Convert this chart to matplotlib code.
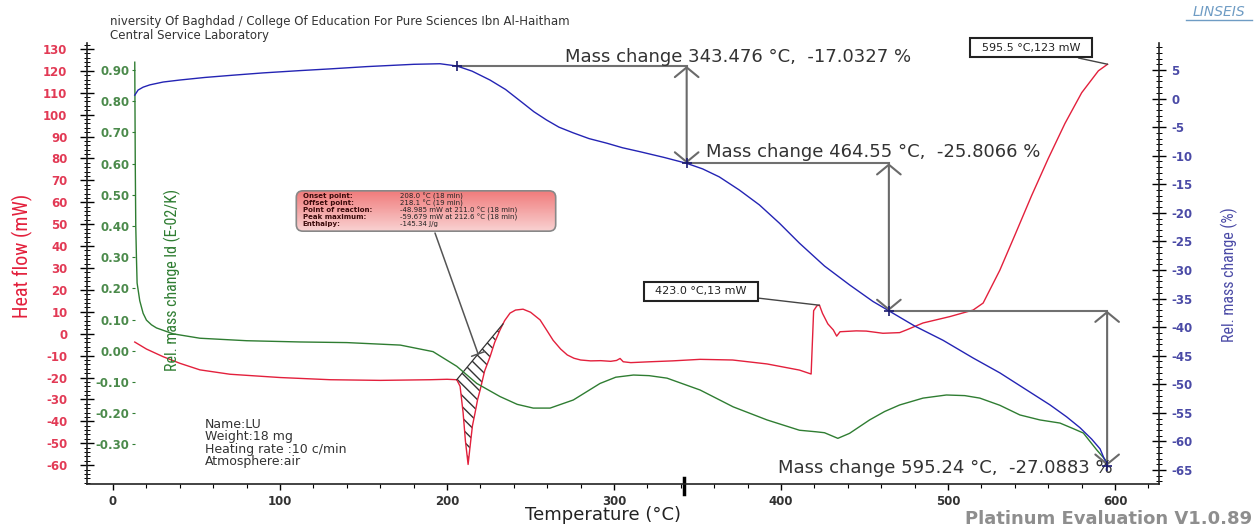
import numpy as np
import matplotlib.pyplot as plt
from matplotlib.ticker import MultipleLocator, FormatStrFormatter
from matplotlib.patches import FancyBboxPatch
from matplotlib.colors import LinearSegmentedColormap
from matplotlib.lines import Line2D

plt.rcParams['axes.unicode_minus'] = False

# heat flow (mW) against temperature
t_hf = [13, 20, 30, 40, 52, 70, 100, 130, 160, 190, 200, 205.8, 207.8, 209.6,
        211.0, 212.6, 214.0, 215.2, 216.8, 218.3, 219.8, 222.5, 225.7, 228.5,
        231.7, 234.5, 237.7, 241, 245.5, 250, 255.7, 259.5, 263.5, 268, 272,
        276, 280, 286, 292, 298, 301.5, 303.6, 305.5, 310, 321.6, 335, 351.5,
        371, 391.6, 411, 418.0, 419.5, 421.5, 423.0, 424.8, 428, 431.3, 433.3,
        435.3, 445, 451, 461, 471, 475, 485, 501, 515, 521, 525, 528, 531, 540,
        550, 560, 570, 580, 590, 595.5]
heat_flow = [-3.8, -7, -10.5, -13.5, -16.5, -18.5, -20, -21, -21.3, -21, -20.8,
             -21, -24, -36, -48.985, -59.679, -50, -42, -36, -30, -25.7, -17,
             -10.6, -4, 1.7, 6, 9.4, 10.8, 11.2, 9.8, 6.3, 1.8, -3, -7, -9.7,
             -11.2, -12, -12.4, -12.3, -12.6, -12.2, -11.3, -12.8, -13.2, -12.8,
             -12.4, -11.7, -12, -13.8, -16.6, -18.4, 10.5, 12.8, 13.0, 9.3, 4.5,
             1.7, -1.1, 0.9, 1.3, 1.2, 0.2, 0.5, 1.7, 4.9, 7.8, 10.8, 14, 20,
             24.5, 29, 45, 63, 80, 96, 110, 120, 123]

# derivative of relative mass change (E-02/K)
t_dtg = [13, 13.3, 13.6, 14.0, 14.4, 16, 18, 20, 23, 26, 36, 52, 80, 112, 140,
         172, 191.6, 205.8, 217.8, 231.7, 242, 251.6, 261.7, 275.6, 291.6, 301,
         311.6, 321, 331.7, 351.5, 371.3, 391.6, 411, 421, 426, 430, 434, 441,
         453, 462, 471, 485, 499, 510, 519, 531, 543, 555, 567, 575, 581, 589,
         595.2]
dtg = [0.925, 0.6, 0.4, 0.30, 0.217, 0.16, 0.12, 0.098, 0.083, 0.073, 0.054,
       0.040, 0.032, 0.028, 0.026, 0.018, -0.003, -0.05, -0.105, -0.147, -0.172,
       -0.184, -0.184, -0.158, -0.105, -0.085, -0.078, -0.08, -0.088, -0.126,
       -0.18, -0.222, -0.255, -0.26, -0.263, -0.272, -0.281, -0.265, -0.222,
       -0.195, -0.174, -0.152, -0.142, -0.144, -0.152, -0.175, -0.206, -0.222,
       -0.232, -0.25, -0.264, -0.318, -0.356]

# relative mass change (%)
t_tg = [13, 15, 18, 22, 30, 40, 55, 72, 90, 112, 130, 152, 180, 195.8, 206.0,
        215, 225.7, 235, 245.5, 252, 259.6, 267, 275.6, 285, 295.6, 305, 315.6,
        330, 343.476, 353, 363, 375, 387, 399, 411, 426, 441, 455, 464.55, 480,
        497, 515, 531, 546, 561, 571, 579, 586, 591, 595.24]
mass = [0.6, 1.5, 2.0, 2.4, 2.9, 3.25, 3.7, 4.1, 4.5, 4.9, 5.2, 5.6, 6.0, 6.1,
        5.7, 4.8, 3.25, 1.6, -0.8, -2.3, -3.75, -5.0, -6.0, -7.0, -7.8, -8.6,
        -9.3, -10.3, -11.33, -12.3, -13.7, -16, -18.6, -21.8, -25.3, -29.3,
        -32.6, -35.5, -37.14, -39.8, -42.3, -45.4, -48, -50.8, -53.6, -55.7,
        -57.6, -59.6, -61.3, -64.23]

# mass change evaluation steps
step_start = 206.0
step_temps = [343.476, 464.55, 595.24]
step_changes = [-17.0327, -25.8066, -27.0883]

# DSC peak evaluation
peak_rows = [("Onset point:", "208.0 °C (18 min)"),
             ("Offset point:", "218.1 °C (19 min)"),
             ("Point of reaction:", "-48.985 mW at 211.0 °C (18 min)"),
             ("Peak maximum:", "-59.679 mW at 212.6 °C (18 min)"),
             ("Enthalpy:", "-145.34 J/g")]
base_from, base_to = 205.8, 233.5

marks = [(595.5, 123), (423.0, 13)]

sample_info = ["Name:LU", "Weight:18 mg", "Heating rate :10 c/min", "Atmosphere:air"]

RED, GREEN, BLUE = '#e3203c', '#2f7d32', '#2424b4'
RED_T, GREEN_T, BLUE_T = '#e23a55', '#4b8a4b', '#4a4aa6'
NARROW = ['Liberation Sans Narrow', 'Roboto Condensed', 'DejaVu Sans Condensed',
          'Liberation Sans']

W, H = 1257, 529
fig = plt.figure(figsize=(W / 100, H / 100), dpi=100)
ax = fig.add_axes([87 / W, 1 - 484 / H, (1159 - 87) / W, (484 - 43) / H])
ax_g = ax.twinx()
ax_b = ax.twinx()

ax.set_xlim(-15.6, 626.3)
ax.set_ylim(-68.6, 132.7)
ax_g.set_ylim(-0.4274, 0.9866)
ax_b.set_ylim(-67.45, 9.73)

# curves
ax.plot(t_hf, heat_flow, color=RED, lw=1.0)
ax_g.plot(t_dtg, dtg, color=GREEN, lw=1.0)
ax_b.plot(t_tg, mass, color=BLUE, lw=1.0)

# spines
for a in (ax, ax_g, ax_b):
    a.spines['top'].set_visible(False)
ax.spines['right'].set_visible(False)
for s in ('left', 'right', 'bottom'):
    ax_g.spines[s].set_visible(False)
ax_b.spines['left'].set_visible(False)
ax_b.spines['bottom'].set_visible(False)
for s in (ax.spines['left'], ax.spines['bottom'], ax_b.spines['right']):
    s.set_color('#222222')
    s.set_linewidth(1.2)

# x axis
ax.xaxis.set_major_locator(MultipleLocator(100))
ax.xaxis.set_minor_locator(MultipleLocator(20))
ax.tick_params(axis='x', which='major', direction='out', length=4, width=1,
               pad=4, labelsize=8.5, labelcolor='#333333')
ax.tick_params(axis='x', which='minor', direction='out', length=3, width=0.8)
for lab in ax.get_xticklabels():
    lab.set_fontweight('bold')

# heat flow axis
ax.yaxis.set_major_locator(MultipleLocator(10))
ax.yaxis.set_minor_locator(MultipleLocator(2))
ax.tick_params(axis='y', which='major', direction='inout', length=10, width=1,
               pad=9, labelsize=8.5, labelcolor=RED_T)
ax.tick_params(axis='y', which='minor', direction='inout', length=5, width=0.7)

# dtg axis, sitting inside the frame
ax_g.yaxis.tick_left()
ax_g.spines['left'].set_position(('axes', 0.0448))
ax_g.set_yticks(np.round(np.arange(-0.3, 0.91, 0.1), 2))
ax_g.yaxis.set_major_formatter(FormatStrFormatter('%.2f'))
ax_g.tick_params(axis='y', direction='out', length=2, width=0.8, pad=2,
                 labelsize=8.5, labelcolor=GREEN_T, color=GREEN)

# mass axis
ax_b.yaxis.set_major_locator(MultipleLocator(5))
ax_b.yaxis.set_minor_locator(MultipleLocator(1))
ax_b.tick_params(axis='y', which='major', direction='inout', length=10, width=1,
                 pad=4, labelsize=8.5, labelcolor=BLUE_T)
ax_b.tick_params(axis='y', which='minor', direction='inout', length=5, width=0.7)

for a in (ax, ax_g, ax_b):
    for lab in a.get_yticklabels():
        lab.set_fontweight('bold')

# axis titles
fig.text(22 / W, 1 - 256 / H, 'Heat flow (mW)', rotation=90, color=RED,
         fontsize=14.5, family=NARROW, ha='center', va='center')
fig.text(172 / W, 1 - 280 / H, 'Rel. mass change ld (E-02/K)', rotation=90,
         color=GREEN, fontsize=11.5, family=NARROW, ha='center', va='center')
fig.text(1229 / W, 1 - 275 / H, 'Rel. mass change (%)', rotation=90,
         color=BLUE_T, fontsize=11.5, family=NARROW, ha='center', va='center')
fig.text(603 / W, 1 - 515 / H, 'Temperature (°C)', fontsize=13,
         color='#222222', ha='center', va='center')

# hatched peak area under the baseline
tt = np.linspace(base_from, base_to, 300)
curve = np.interp(tt, t_hf, heat_flow)
y0, y1 = np.interp([base_from, base_to], t_hf, heat_flow)
base = y0 + (y1 - y0) * (tt - base_from) / (base_to - base_from)
ax.fill_between(tt, base, curve, where=curve <= base + 0.01, facecolor='none',
                edgecolor='#333333', hatch='\\\\\\', linewidth=0)
ax.plot([base_from, base_to], [y0, y1], color='#333333', lw=0.9)

# mass change steps
levels = [np.interp(step_start, t_tg, mass)]
for d in step_changes:
    levels.append(levels[-1] + d)
ref_t = [step_start] + step_temps
ax_b.plot(ref_t, levels, '+', color='#1a1a70', ms=7, mew=1.2, zorder=5)
text_pos = [(270.7, 7.3), (355, -9.35), (398.2, -64.65)]
for i, (t, d) in enumerate(zip(step_temps, step_changes)):
    ax_b.plot([ref_t[i], t], [levels[i], levels[i]], color='#707070', lw=1.5)
    ax_b.annotate('', xy=(t, levels[i + 1]), xytext=(t, levels[i]),
                  arrowprops=dict(arrowstyle='<->,head_length=0.7,head_width=0.85',
                                  color='#6a6a6a', lw=1.5, shrinkA=0, shrinkB=0))
    tx, ty = text_pos[i]
    ax_b.text(tx, ty, f'Mass change {t} °C,  {d} %', fontsize=13,
              color='#333333', ha='left', va='center')

# labelled points on the heat flow curve
box_pos = [(549.7, 130.5), (352, 19.3)]
for (t, v), (bx, by) in zip(marks, box_pos):
    ax.annotate(f'  {t:.1f} °C,{v:g} mW  ', xy=(t, v), xytext=(bx, by),
                fontsize=8, color='#222222', ha='center', va='center',
                bbox=dict(boxstyle='square,pad=0.4', fc='white', ec='#222222', lw=1.5),
                arrowprops=dict(arrowstyle='-', color='#444444', lw=1,
                                shrinkA=0, shrinkB=0), annotation_clip=False)

# peak evaluation box
bx0, by0, bw, bh = 295, 190, 262, 42
bax = fig.add_axes([bx0 / W, 1 - (by0 + bh) / H, bw / W, bh / H])
bax.set_xlim(0, 1)
bax.set_ylim(0, 1)
bax.axis('off')
frame = FancyBboxPatch((0.005, 0.02), 0.99, 0.96,
                       boxstyle='round,pad=0,rounding_size=0.025',
                       mutation_aspect=bw / bh, transform=bax.transData,
                       fc='none', ec='#888888', lw=1.2, zorder=3)
bax.add_patch(frame)
pink = LinearSegmentedColormap.from_list('pink', ['#f9d3d3', '#f07a7a'])
grad = np.linspace(0, 1, 64).reshape(-1, 1)
img = bax.imshow(grad, cmap=pink, extent=(0, 1, 0, 1), aspect='auto',
                 origin='lower', zorder=1)
img.set_clip_path(frame)
row_y = [0.857, 0.69, 0.52, 0.357, 0.19]
for (lab, val), yy in zip(peak_rows, row_y):
    bax.text(0.03, yy, lab, fontsize=5, fontweight='bold', color='#3a0a0a',
             va='center', zorder=4)
    bax.text(0.40, yy, val, fontsize=5, color='#222222', va='center', zorder=4)

# pointer from the box to the peak baseline
pt = 218.6
pv = np.interp(pt, [base_from, base_to], [y0, y1])
ax.annotate('', xy=(pt, pv), xytext=(435 / W, 1 - 233 / H),
            textcoords='figure fraction',
            arrowprops=dict(arrowstyle='-[,widthB=0.5,lengthB=0', color='#555555',
                            lw=1.1, shrinkA=0, shrinkB=0))

# sample block
for i, line in enumerate(sample_info):
    fig.text(205 / W, 1 - (424 + 12.5 * i) / H, line, fontsize=9,
             color='#333333', va='center')

# cursor mark on the temperature axis
ax.plot([342, 342], [-0.023, 0.014], color='black', lw=2.5,
        transform=ax.get_xaxis_transform(), clip_on=False)

# header and footer
fig.text(110 / W, 1 - 22 / H,
         'niversity Of Baghdad / College Of Education For Pure Sciences Ibn Al-Haitham',
         fontsize=8.5, color='#333333', va='center')
fig.text(110 / W, 1 - 36 / H, 'Central Service Laboratory', fontsize=8.5,
         color='#333333', va='center')
fig.text(1219 / W, 1 - 12 / H, 'LINSEIS', fontsize=10, fontstyle='italic',
         color='#6f9cc4', ha='center', va='center')
fig.add_artist(Line2D([1186 / W, 1252 / W], [1 - 20 / H, 1 - 20 / H],
                      color='#6f9cc4', lw=1))
fig.text(1252 / W, 1 - 519 / H, 'Platinum Evaluation V1.0.89', fontsize=13,
         fontweight='bold', color='#8e8e8e', ha='right', va='center')

fig.savefig('out.png', dpi=100)
